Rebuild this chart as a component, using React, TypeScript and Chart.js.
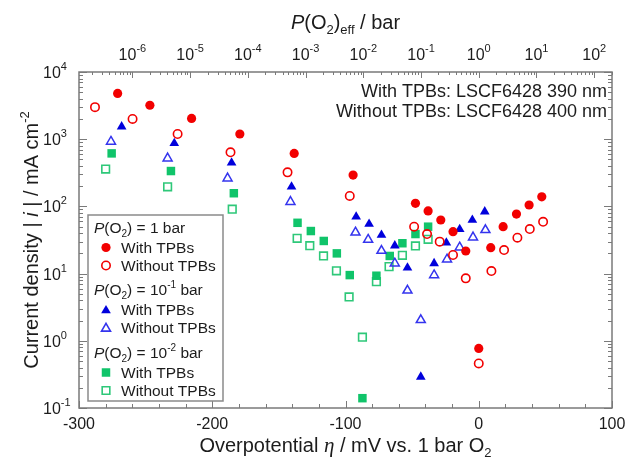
import React, { useEffect, useRef } from "react";
import { Chart, registerables } from "chart.js";

Chart.register(...registerables);

// ---------- data (overpotential in mV, current density in mA cm^-2) ----------
const etaO2_1_with = [-271, -246.8, -215.5, -179.3, -138.5, -94.3, -47.5, -38, -28.5, -19.3, -9.75, 0, 9, 18.3, 28.3, 37.8, 47.3];
const iO2_1_with = [4800, 3200, 2040, 1195, 615, 293, 111, 85.5, 62.8, 42, 21.7, 0.77, 24.3, 49.9, 77, 105, 139];

const etaO2_1_without = [-288, -259.8, -226, -186.3, -143.5, -96.8, -48.5, -38.8, -29.3, -19.3, -9.75, 0, 9.5, 19, 29, 38.3, 48.3];
const iO2_1_without = [3000, 2000, 1195, 638, 321, 143, 49.9, 38.8, 29.9, 18.9, 8.5, 0.46, 10.9, 22.4, 34.2, 46, 59];

const etaO2_01_with = [-268, -228.5, -185.5, -140.5, -92, -82.3, -73, -63, -53.5, -43.5, -33.5, -24.3, -14.3, -4.8, 4.5];
const iO2_01_with = [1540, 870, 446, 196, 70, 54.7, 37.5, 26, 12.2, 0.29, 14.2, 28.8, 45.6, 62.8, 83.4];

const etaO2_01_without = [-276, -233.5, -188.5, -141.3, -92.5, -83, -73, -63, -53.5, -43.5, -33.5, -23.8, -14.3, -4.3, 5];
const iO2_01_without = [920, 520, 262, 117, 41, 32, 21.9, 14.2, 5.6, 2.04, 9.5, 16.3, 24.6, 34.7, 44.6];

const etaO2_001_with = [-275.5, -231, -183.8, -136, -126, -116.3, -106.5, -96.8, -87.3, -76.8, -66.8, -57.3, -47.5, -38];
const iO2_001_with = [615, 336, 157, 57, 43, 30.6, 20, 9.5, 0.14, 9.3, 18.3, 28.3, 38.8, 49.9];

const etaO2_001_without = [-280, -233.5, -185, -136.3, -126.8, -116.5, -106.8, -97.3, -87.3, -76.8, -67.3, -57.3, -47.5, -38];
const iO2_001_without = [360, 196, 91, 33.5, 26, 18.3, 11, 4.5, 1.13, 7.6, 12.7, 18.7, 25.8, 32.4];

const xTickValues = [-300, -200, -100, 0, 100];
const yDecades = [-1, 0, 1, 2, 3, 4];
const topDecades = [-6, -5, -4, -3, -2, -1, 0, 1, 2];
const mVPerDecade = 43.32; // RT/4F ln10 at ~600 °C

const RED = "#f20000";
const BLUE = "#0000dc";
const BLUE_OPEN = "#3434ee";
const GREEN = "#10c46a";
const GREEN_OPEN = "#2ec879";
const TEXT = "#1c1c1c";
const FRAME = "#7a7a7a";
const SANS = '"Liberation Sans", Arial, sans-serif';
const SERIF = '"Liberation Serif", "DejaVu Serif", serif';

type Seg = { t: string; size: number; italic?: boolean; dy?: number; family?: string };

function fontOf(s: Seg) {
  return `${s.italic ? "italic " : ""}${s.size}px ${s.family || SANS}`;
}
function richWidth(ctx: CanvasRenderingContext2D, segs: Seg[]) {
  let w = 0;
  for (const s of segs) {
    ctx.font = fontOf(s);
    w += ctx.measureText(s.t).width;
  }
  return w;
}
function drawRich(ctx: CanvasRenderingContext2D, segs: Seg[], x: number, y: number, align: "left" | "center" | "right") {
  const w = richWidth(ctx, segs);
  let cx = align === "left" ? x : align === "center" ? x - w / 2 : x - w;
  ctx.textAlign = "left";
  ctx.textBaseline = "alphabetic";
  for (const s of segs) {
    ctx.font = fontOf(s);
    ctx.fillText(s.t, cx, y + (s.dy || 0));
    cx += ctx.measureText(s.t).width;
  }
}

function drawMarker(ctx: CanvasRenderingContext2D, style: string, filled: boolean, x: number, y: number, r: number, color: string, lw: number) {
  ctx.beginPath();
  if (style === "circle") {
    ctx.arc(x, y, r, 0, Math.PI * 2);
  } else if (style === "triangle") {
    let rad = 0;
    ctx.moveTo(x + Math.sin(rad) * r, y - Math.cos(rad) * r);
    rad += (2 * Math.PI) / 3;
    ctx.lineTo(x + Math.sin(rad) * r, y - Math.cos(rad) * r);
    rad += (2 * Math.PI) / 3;
    ctx.lineTo(x + Math.sin(rad) * r, y - Math.cos(rad) * r);
    ctx.closePath();
  } else {
    const s = Math.SQRT1_2 * r;
    ctx.rect(x - s, y - s, 2 * s, 2 * s);
  }
  if (filled) {
    ctx.fillStyle = color;
    ctx.fill();
  } else {
    ctx.strokeStyle = color;
    ctx.lineWidth = lw;
    ctx.stroke();
  }
}

const pts = (xs: number[], ys: number[]) => xs.map((x, i) => ({ x, y: ys[i] }));

const axesPlugin = {
  id: "customAxes",
  beforeDatasetsDraw(chart: any) {
    const ctx: CanvasRenderingContext2D = chart.ctx;
    const xs = chart.scales.x;
    const ys = chart.scales.y;
    const { left, right, top, bottom } = chart.chartArea;
    ctx.save();
    ctx.strokeStyle = FRAME;
    ctx.lineWidth = 1;
    // bottom ticks (linear, inward)
    for (let v = -300; v <= 100; v += 20) {
      const px = Math.round(xs.getPixelForValue(v)) + 0.5;
      const len = v % 100 === 0 ? 7 : 4;
      ctx.beginPath();
      ctx.moveTo(px, bottom);
      ctx.lineTo(px, bottom - len);
      ctx.stroke();
    }
    // top ticks (P(O2)eff log scale mapped onto eta)
    for (let d = -7; d <= 2; d++) {
      for (let m = 1; m <= 9; m++) {
        const eta = (d + Math.log10(m)) * mVPerDecade;
        if (eta < -300 || eta > 100) continue;
        const px = Math.round(xs.getPixelForValue(eta)) + 0.5;
        const len = m === 1 ? 6 : 3;
        ctx.beginPath();
        ctx.moveTo(px, top);
        ctx.lineTo(px, top + len);
        ctx.stroke();
      }
    }
    // left/right log ticks
    for (let d = -1; d <= 4; d++) {
      for (let m = 1; m <= 9; m++) {
        const v = m * Math.pow(10, d);
        if (v > 10000) continue;
        const py = Math.round(ys.getPixelForValue(v)) + 0.5;
        const len = m === 1 ? 8 : 4;
        ctx.beginPath();
        ctx.moveTo(left, py);
        ctx.lineTo(left + len, py);
        ctx.moveTo(right, py);
        ctx.lineTo(right - len, py);
        ctx.stroke();
      }
    }
    // frame
    ctx.lineWidth = 1.5;
    ctx.strokeRect(left, top, right - left, bottom - top);
    ctx.restore();
  },
  afterDraw(chart: any) {
    const ctx: CanvasRenderingContext2D = chart.ctx;
    const xs = chart.scales.x;
    const ys = chart.scales.y;
    const { left, right, top, bottom } = chart.chartArea;
    ctx.save();
    ctx.fillStyle = TEXT;

    // bottom tick labels
    for (const v of xTickValues) {
      drawRich(ctx, [{ t: String(v), size: 16 }], xs.getPixelForValue(v), bottom + 21, "center");
    }
    // y tick labels
    for (const d of yDecades) {
      const py = ys.getPixelForValue(Math.pow(10, d));
      drawRich(ctx, [{ t: "10", size: 16 }, { t: String(d), size: 11, dy: -8 }], left - 36, py + 6, "left");
    }
    // top tick labels
    for (const d of topDecades) {
      const px = xs.getPixelForValue(d * mVPerDecade);
      drawRich(ctx, [{ t: "10", size: 16 }, { t: String(d), size: 11, dy: -8 }], px, top - 12, "center");
    }
    // top title
    drawRich(
      ctx,
      [
        { t: "P", size: 20, italic: true },
        { t: "(O", size: 20 },
        { t: "2", size: 13, dy: 5 },
        { t: ")", size: 20 },
        { t: "eff", size: 13, dy: 5 },
        { t: " / bar", size: 20 },
      ],
      (left + right) / 2,
      29,
      "center"
    );
    // x title
    drawRich(
      ctx,
      [
        { t: "Overpotential ", size: 20 },
        { t: "η", size: 21, italic: true, family: SERIF },
        { t: " / mV vs. 1 bar O", size: 20 },
        { t: "2", size: 13, dy: 5 },
      ],
      (left + right) / 2,
      452,
      "center"
    );
    // y title
    ctx.save();
    ctx.translate(38, (top + bottom) / 2);
    ctx.rotate(-Math.PI / 2);
    drawRich(
      ctx,
      [
        { t: "Current density | ", size: 20 },
        { t: "i", size: 20, italic: true },
        { t: " | / mA cm", size: 20 },
        { t: "-2", size: 13, dy: -9 },
      ],
      0,
      0,
      "center"
    );
    ctx.restore();

    // annotation
    drawRich(ctx, [{ t: "With TPBs: LSCF6428 390 nm", size: 18 }], right - 5, 97, "right");
    drawRich(ctx, [{ t: "Without TPBs: LSCF6428 400 nm", size: 18 }], right - 5, 117, "right");

    // legend box
    const bx = 88, by = 215, bw = 135, bh = 186;
    ctx.fillStyle = "#ffffff";
    ctx.fillRect(bx, by, bw, bh);
    ctx.strokeStyle = "#8a8a8a";
    ctx.lineWidth = 1.5;
    ctx.strokeRect(bx, by, bw, bh);
    ctx.fillStyle = TEXT;

    const groups = [
      { exp: "", base: 233, color: RED, openColor: RED, style: "circle", r: 4.6, ro: 4.2 },
      { exp: "-1", base: 295, color: BLUE, openColor: BLUE_OPEN, style: "triangle", r: 5.6, ro: 5.2 },
      { exp: "-2", base: 358, color: GREEN, openColor: GREEN_OPEN, style: "rect", r: 6, ro: 5.4 },
    ];
    for (const g of groups) {
      const header: Seg[] = [
        { t: "P", size: 15.5, italic: true },
        { t: "(O", size: 15.5 },
        { t: "2", size: 10, dy: 4 },
      ];
      if (g.exp) {
        header.push({ t: ") = 10", size: 15.5 }, { t: g.exp, size: 10, dy: -7 }, { t: " bar", size: 15.5 });
      } else {
        header.push({ t: ") = 1 bar", size: 15.5 });
      }
      ctx.fillStyle = TEXT;
      drawRich(ctx, header, 94, g.base, "left");
      drawRich(ctx, [{ t: "With TPBs", size: 15.5 }], 121, g.base + 20, "left");
      drawRich(ctx, [{ t: "Without TPBs", size: 15.5 }], 121, g.base + 38, "left");
      const my1 = g.base + 20 - 5.5 + (g.style === "triangle" ? 1 : 0);
      const my2 = g.base + 38 - 5.5 + (g.style === "triangle" ? 1 : 0);
      drawMarker(ctx, g.style, true, 106, my1, g.r, g.color, 0);
      drawMarker(ctx, g.style, false, 106, my2, g.ro, g.openColor, 1.6);
    }
    ctx.restore();
  },
};

export default function App() {
  const canvasRef = useRef<HTMLCanvasElement | null>(null);

  useEffect(() => {
    const canvas = canvasRef.current;
    if (!canvas) return;
    const chart = new Chart(canvas, {
      type: "scatter",
      data: {
        datasets: [
          {
            label: "1 bar, with TPBs",
            data: pts(etaO2_1_with, iO2_1_with),
            pointStyle: "circle",
            pointRadius: 4.6,
            backgroundColor: RED,
            borderColor: RED,
            borderWidth: 0,
          },
          {
            label: "1 bar, without TPBs",
            data: pts(etaO2_1_without, iO2_1_without),
            pointStyle: "circle",
            pointRadius: 4.2,
            backgroundColor: "rgba(255,255,255,0)",
            borderColor: RED,
            borderWidth: 1.6,
          },
          {
            label: "0.1 bar, with TPBs",
            data: pts(etaO2_01_with, iO2_01_with),
            pointStyle: "triangle",
            pointRadius: 5.6,
            backgroundColor: BLUE,
            borderColor: BLUE,
            borderWidth: 0,
          },
          {
            label: "0.1 bar, without TPBs",
            data: pts(etaO2_01_without, iO2_01_without),
            pointStyle: "triangle",
            pointRadius: 5.2,
            backgroundColor: "rgba(255,255,255,0)",
            borderColor: BLUE_OPEN,
            borderWidth: 1.5,
          },
          {
            label: "0.01 bar, with TPBs",
            data: pts(etaO2_001_with, iO2_001_with),
            pointStyle: "rect",
            pointRadius: 6,
            backgroundColor: GREEN,
            borderColor: GREEN,
            borderWidth: 0,
          },
          {
            label: "0.01 bar, without TPBs",
            data: pts(etaO2_001_without, iO2_001_without),
            pointStyle: "rect",
            pointRadius: 5.4,
            backgroundColor: "rgba(255,255,255,0)",
            borderColor: GREEN_OPEN,
            borderWidth: 1.6,
          },
        ],
      },
      options: {
        responsive: false,
        animation: false,
        events: [],
        layout: { padding: { left: 79, right: 19, top: 72, bottom: 52 } },
        scales: {
          x: { type: "linear", min: -300, max: 100, display: false },
          y: { type: "logarithmic", min: 0.1, max: 10000, display: false },
        },
        plugins: {
          legend: { display: false },
          tooltip: { enabled: false },
        },
      },
      plugins: [axesPlugin],
    });
    return () => chart.destroy();
  }, []);

  return (
    <div style={{ position: "fixed", left: 0, top: 0, width: 631, height: 460, background: "#fff" }}>
      <canvas ref={canvasRef} width={631} height={460} style={{ display: "block" }} />
    </div>
  );
}
